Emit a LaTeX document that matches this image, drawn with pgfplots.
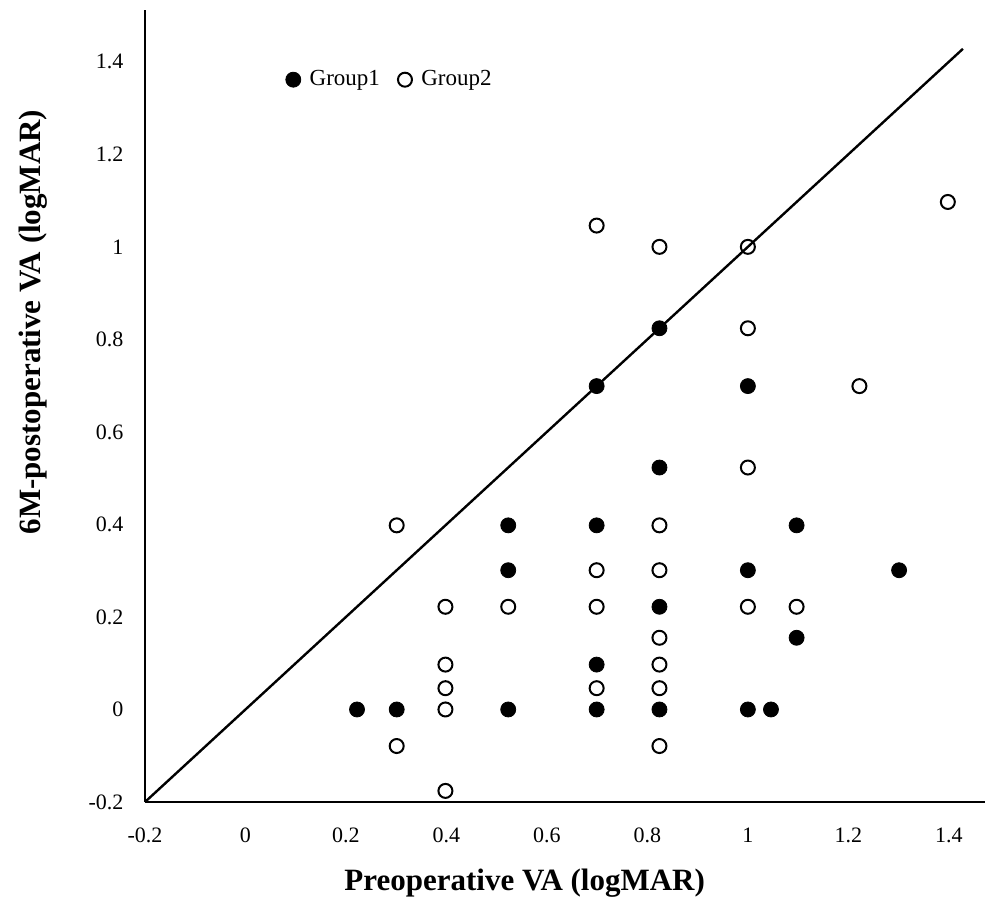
\documentclass[border=0pt]{standalone}
\usepackage{fontspec}
\setmainfont{Liberation Serif}
\usepackage{pgfplots}
\pgfplotsset{compat=1.18}

\begin{document}
\begin{tikzpicture}
\begin{axis}[
  width=420pt, height=396pt, scale only axis,
  xmin=-0.2, xmax=1.472, ymin=-0.2, ymax=1.512,
  axis x line=bottom, axis y line=left,
  axis line style={-, line width=1pt, black},
  xtick={-0.2,0,0.2,...,1.4}, ytick={-0.2,0,0.2,...,1.4},
  major tick length=0pt,
  tick label style={font=\fontsize{11}{13}\selectfont},
  /pgf/number format/assume math mode=true,
  xticklabel style={yshift=-9.5pt},
  yticklabel style={xshift=-7.3pt},
  xlabel={Preoperative VA (logMAR)},
  ylabel={6M-postoperative VA (logMAR)},
  label style={font=\fontsize{15.5}{18}\selectfont\bfseries},
  xlabel style={at={(rel axis cs:0.452,0)}, anchor=center, yshift=-40.5pt},
  ylabel style={at={(rel axis cs:0,0.606)}, anchor=center, yshift=56pt},
  clip=false,
  legend columns=2,
  legend style={at={(rel axis cs:0.16,0.912)}, anchor=west, draw=none, fill=none,
    font=\fontsize{11.5}{13}\selectfont, /tikz/every even column/.append style={column sep=7pt}},
  legend image code/.code={\draw[#1] plot coordinates {(0cm,0cm)}; \path[draw=none] (0,0) -- (6.2pt,0);},
]
\coordinate (bl) at (rel axis cs:0,0);
\coordinate (tr) at (rel axis cs:1,1);
\addplot[only marks, mark=*, mark size=3.75pt, mark options={fill=black, draw=black}] coordinates {
(0.222,0) (0.301,0) (0.523,0.398) (0.523,0.301) (0.523,0)
(0.699,0.699) (0.699,0.398) (0.699,0.097) (0.699,0)
(0.824,0.824) (0.824,0.523) (0.824,0.222) (0.824,0)
(1.0,0.699) (1.0,0.301) (1.0,0) (1.046,0)
(1.097,0.398) (1.097,0.155) (1.301,0.301)
};
\addlegendentry{Group1}
\addplot[only marks, mark=o, mark size=3.5pt, mark options={fill=white, draw=black, line width=1pt}] coordinates {
(0.301,0.398) (0.301,-0.079)
(0.398,0.222) (0.398,0.097) (0.398,0.046) (0.398,0) (0.398,-0.176)
(0.523,0.222)
(0.699,1.046) (0.699,0.301) (0.699,0.222) (0.699,0.046)
(0.824,1.0) (0.824,0.398) (0.824,0.301) (0.824,0.155) (0.824,0.097) (0.824,0.046) (0.824,-0.079)
(1.0,1.0) (1.0,0.824) (1.0,0.523) (1.0,0.222)
(1.097,0.222) (1.222,0.699) (1.398,1.097)
};
\addlegendentry{Group2}
\addplot[black, line width=1.2pt, forget plot] coordinates {(-0.2,-0.2) (1.428,1.428)};
\end{axis}
\pgfresetboundingbox
\path ([shift={(-72.5pt,-53.5pt)}]bl) rectangle ([shift={(10pt,5pt)}]tr);
\end{tikzpicture}
\end{document}
